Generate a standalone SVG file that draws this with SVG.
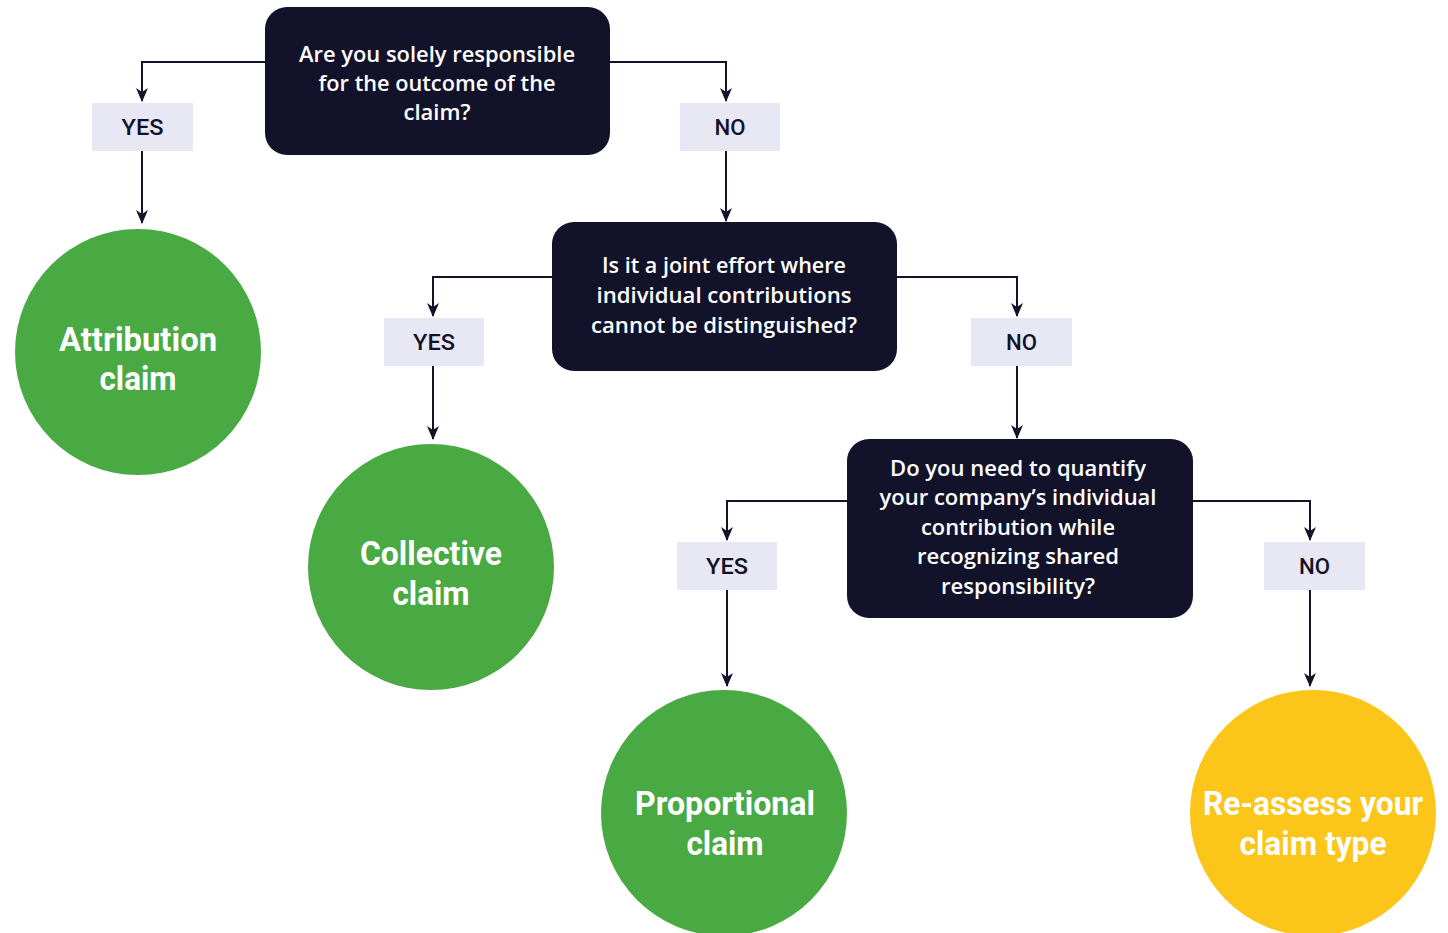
<svg xmlns="http://www.w3.org/2000/svg" width="1448" height="933" viewBox="0 0 1448 933">
  <style>
    .q { fill: #12132a; }
    .qt { fill: #ffffff; font-family: "Open Sans", "Liberation Sans", sans-serif; font-weight: 600; font-size: 21px; text-anchor: middle; }
    .lbl { fill: #e8e8f5; }
    .lt { fill: #12132a; font-family: Roboto, "Liberation Sans", sans-serif; font-weight: 500; font-size: 22px; text-anchor: middle; }
    .ct { fill: #ffffff; font-family: Roboto, "Liberation Sans", sans-serif; font-weight: 700; font-size: 33px; text-anchor: middle; }
    .green { fill: #49a942; }
    .yellow { fill: #fcc519; }
    .link { fill: none; stroke: #12132a; stroke-width: 2; marker-end: url(#arrow); }
  </style>
  <defs>
    <!-- arrowhead drawn along +x so orient="auto" points it down the line -->
    <marker id="arrow" viewBox="0 0 14 12" refX="13" refY="6" markerWidth="14" markerHeight="12" markerUnits="userSpaceOnUse" orient="auto">
      <path d="M0,0 L14,6 L0,12 L4,6 Z" fill="#12132a"/>
    </marker>
  </defs>

  <rect width="1448" height="933" fill="#ffffff"/>

  <!-- connectors -->
  <g id="connectors">
    <path class="link" d="M265,62 H142 V101"/>
    <path class="link" d="M142,151 V223"/>
    <path class="link" d="M610,62 H726 V101"/>
    <path class="link" d="M726,151 V221"/>
    <path class="link" d="M552,277 H433 V316"/>
    <path class="link" d="M433,366 V439"/>
    <path class="link" d="M897,277 H1017 V316"/>
    <path class="link" d="M1017,366 V438"/>
    <path class="link" d="M847,501 H727 V540"/>
    <path class="link" d="M727,590 V686"/>
    <path class="link" d="M1193,501 H1310 V540"/>
    <path class="link" d="M1310,590 V686"/>
  </g>

  <!-- question 1 -->
  <g id="q1">
    <rect class="q" x="265" y="7" width="345" height="148" rx="22"/>
    <text class="qt" x="437" y="62" textLength="276" lengthAdjust="spacingAndGlyphs">Are you solely responsible</text>
    <text class="qt" x="437" y="91" textLength="237" lengthAdjust="spacingAndGlyphs">for the outcome of the</text>
    <text class="qt" x="437" y="120" textLength="67" lengthAdjust="spacingAndGlyphs">claim?</text>
  </g>

  <g id="q1-yes">
    <rect class="lbl" x="92" y="103" width="101" height="48"/>
    <text class="lt" x="142.5" y="135" textLength="42" lengthAdjust="spacingAndGlyphs">YES</text>
  </g>
  <g id="q1-no">
    <rect class="lbl" x="680" y="103" width="100" height="48"/>
    <text class="lt" x="730" y="135" textLength="31" lengthAdjust="spacingAndGlyphs">NO</text>
  </g>

  <g id="attribution">
    <circle class="green" cx="138" cy="352" r="123"/>
    <text class="ct" x="138" y="351" textLength="158" lengthAdjust="spacingAndGlyphs">Attribution</text>
    <text class="ct" x="138" y="390" textLength="77" lengthAdjust="spacingAndGlyphs">claim</text>
  </g>

  <!-- question 2 -->
  <g id="q2">
    <rect class="q" x="552" y="222" width="345" height="149" rx="22"/>
    <text class="qt" x="724" y="273" textLength="244" lengthAdjust="spacingAndGlyphs">Is it a joint effort where</text>
    <text class="qt" x="724" y="303" textLength="255" lengthAdjust="spacingAndGlyphs">individual contributions</text>
    <text class="qt" x="724" y="333" textLength="266" lengthAdjust="spacingAndGlyphs">cannot be distinguished?</text>
  </g>

  <g id="q2-yes">
    <rect class="lbl" x="384" y="318" width="100" height="48"/>
    <text class="lt" x="434" y="350" textLength="42" lengthAdjust="spacingAndGlyphs">YES</text>
  </g>
  <g id="q2-no">
    <rect class="lbl" x="971" y="318" width="101" height="48"/>
    <text class="lt" x="1021.5" y="350" textLength="31" lengthAdjust="spacingAndGlyphs">NO</text>
  </g>

  <g id="collective">
    <circle class="green" cx="431" cy="567" r="123"/>
    <text class="ct" x="431" y="565" textLength="142" lengthAdjust="spacingAndGlyphs">Collective</text>
    <text class="ct" x="431" y="605" textLength="77" lengthAdjust="spacingAndGlyphs">claim</text>
  </g>

  <!-- question 3 -->
  <g id="q3">
    <rect class="q" x="847" y="439" width="346" height="179" rx="22"/>
    <text class="qt" x="1018" y="476" textLength="256" lengthAdjust="spacingAndGlyphs">Do you need to quantify</text>
    <text class="qt" x="1018" y="505" textLength="277" lengthAdjust="spacingAndGlyphs">your company’s individual</text>
    <text class="qt" x="1018" y="535" textLength="194" lengthAdjust="spacingAndGlyphs">contribution while</text>
    <text class="qt" x="1018" y="564" textLength="202" lengthAdjust="spacingAndGlyphs">recognizing shared</text>
    <text class="qt" x="1018" y="594" textLength="154" lengthAdjust="spacingAndGlyphs">responsibility?</text>
  </g>

  <g id="q3-yes">
    <rect class="lbl" x="677" y="542" width="100" height="48"/>
    <text class="lt" x="727" y="574" textLength="42" lengthAdjust="spacingAndGlyphs">YES</text>
  </g>
  <g id="q3-no">
    <rect class="lbl" x="1264" y="542" width="101" height="48"/>
    <text class="lt" x="1314.5" y="574" textLength="31" lengthAdjust="spacingAndGlyphs">NO</text>
  </g>

  <g id="proportional">
    <circle class="green" cx="724" cy="813" r="123"/>
    <text class="ct" x="725" y="815" textLength="180" lengthAdjust="spacingAndGlyphs">Proportional</text>
    <text class="ct" x="725" y="855" textLength="77" lengthAdjust="spacingAndGlyphs">claim</text>
  </g>

  <g id="reassess">
    <circle class="yellow" cx="1313" cy="813" r="123"/>
    <text class="ct" x="1313" y="815" textLength="220" lengthAdjust="spacingAndGlyphs">Re-assess your</text>
    <text class="ct" x="1313" y="855" textLength="147" lengthAdjust="spacingAndGlyphs">claim type</text>
  </g>
</svg>
